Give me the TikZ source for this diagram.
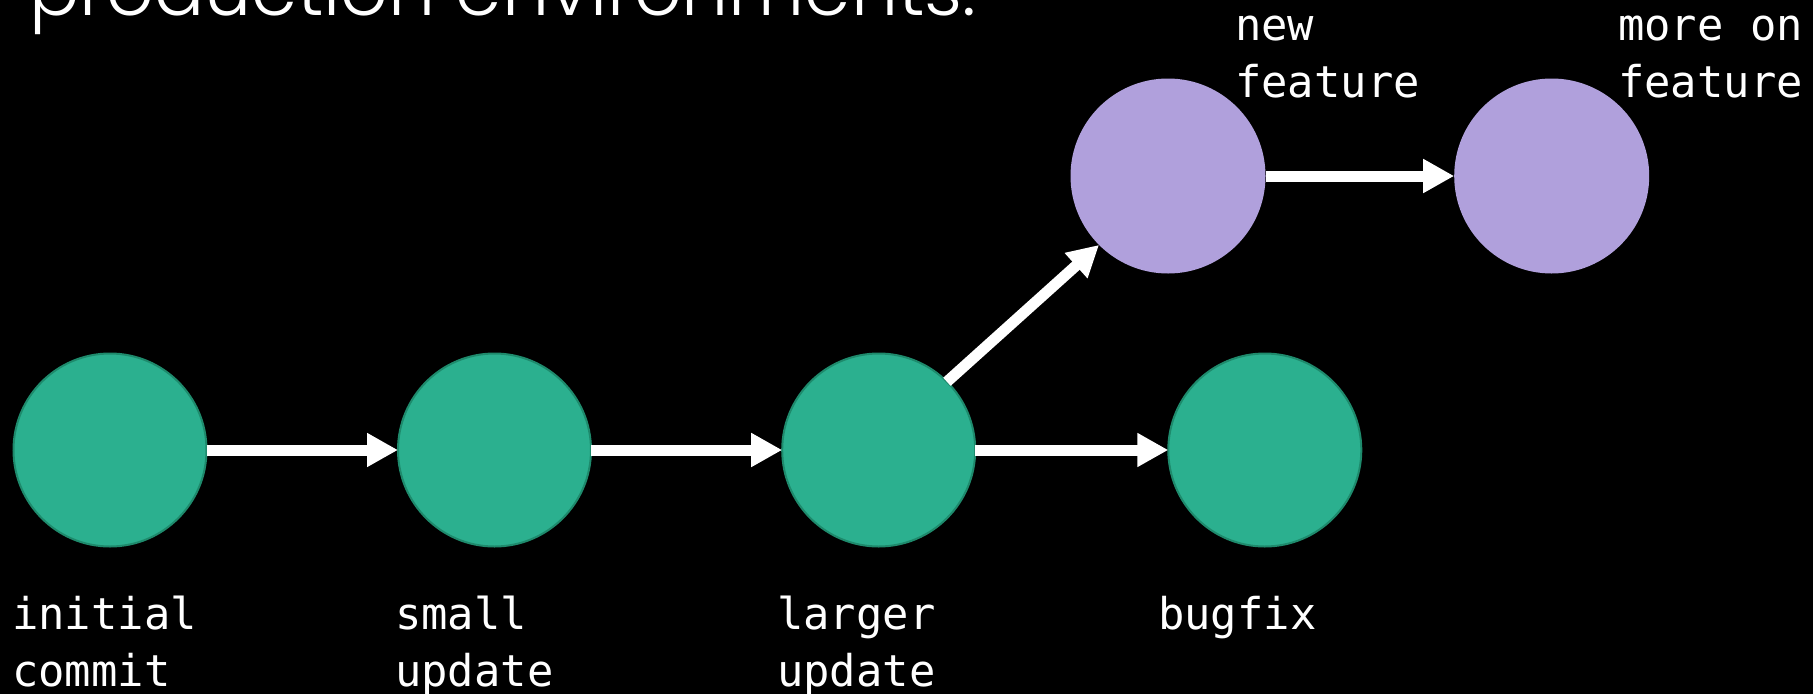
\documentclass[tikz,border=0pt]{standalone}
\usepackage{fontspec}
\usetikzlibrary{arrows.meta}
\newfontfamily\labelfont{DejaVu Sans Mono}
\IfFontExistsTF{Poppins Light}{\newfontfamily\titlefont{Poppins Light}}{\newfontfamily\titlefont{Poppins}}
\definecolor{cgreen}{HTML}{2BB08F}
\definecolor{cgreenedge}{HTML}{1E8A6C}
\definecolor{cpurple}{HTML}{B0A0DC}
\begin{document}
\begin{tikzpicture}[x=1pt,y=-1pt,
  commitg/.style={circle, minimum size=193pt, inner sep=0pt, outer sep=0pt, fill=cgreen, draw=cgreenedge, line width=2pt},
  commitp/.style={circle, minimum size=195pt, inner sep=0pt, outer sep=0pt, fill=cpurple},
  link/.style={draw=white, line width=11pt, -{Triangle[length=31pt,width=32pt]}},
  lab/.style={anchor=base west, inner sep=0pt, text=white, font=\labelfont\fontsize{43.8pt}{57pt}\selectfont}]
\useasboundingbox (0,0) rectangle (1813,694);
\fill[black] (0,0) rectangle (1813,694);
\clip (0,0) rectangle (1813,694);
\node[anchor=base west, inner sep=0pt, text=white] (title) at (29,15) {\resizebox{947pt}{!}{\titlefont production environments.}};
\node[commitg] (c1) at (110,450) {};
\node[commitg] (c2) at (494.5,450) {};
\node[commitg] (c3) at (878.7,450) {};
\node[commitg] (c4) at (1264.8,450) {};
\node[commitp] (p1) at (1168,176) {};
\node[commitp] (p2) at (1551.7,176) {};
\draw[link] (c1.east) -- (c2.west);
\draw[link] (c2.east) -- (c3.west);
\draw[link] (c3.east) -- (c4.west);
\draw[link] (c3.45) -- (p1.225);
\draw[link] (p1.east) -- (p2.west);
\node[lab] (l1a) at (12,629) {initial};
\node[lab] (l1b) at (12,686) {commit};
\node[lab] (l2a) at (395,629) {small};
\node[lab] (l2b) at (395,686) {update};
\node[lab] (l3a) at (777,629) {larger};
\node[lab] (l3b) at (777,686) {update};
\node[lab] (l4a) at (1158,629) {bugfix};
\node[lab] (l5a) at (1235,40) {new};
\node[lab] (l5b) at (1235,97) {feature};
\node[lab] (l6a) at (1618,40) {more on};
\node[lab] (l6b) at (1618,97) {feature};
\end{tikzpicture}
\end{document}
